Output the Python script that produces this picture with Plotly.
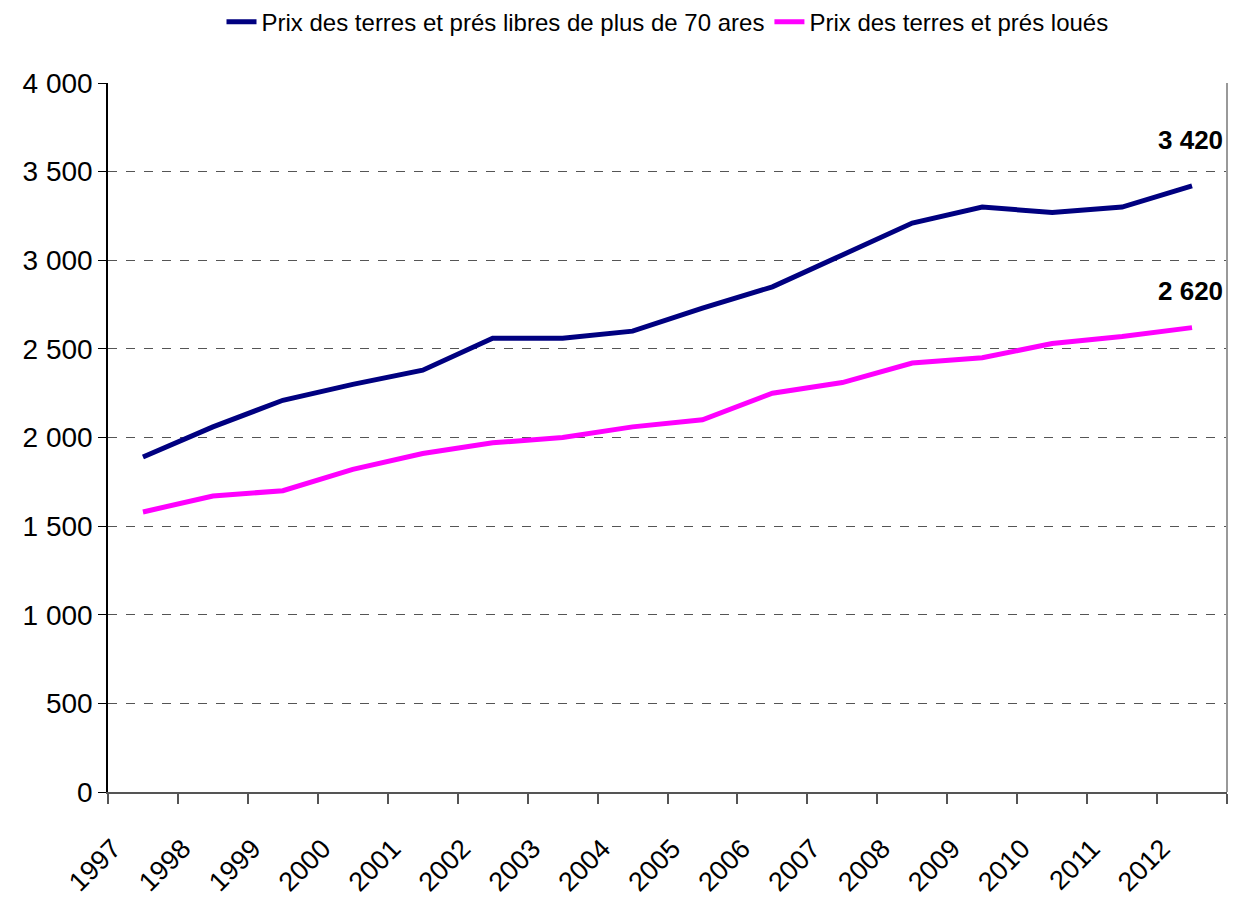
import plotly.graph_objects as go

years = [str(y) for y in range(1997, 2013)]
libres = [1890, 2060, 2210, 2300, 2380, 2560, 2560, 2600, 2730, 2850, 3030, 3210, 3300, 3270, 3300, 3420]
loues = [1580, 1670, 1700, 1820, 1910, 1970, 2000, 2060, 2100, 2250, 2310, 2420, 2450, 2530, 2570, 2620]
name_libres = "Prix des terres et prés libres de plus de 70 ares"
name_loues = "Prix des terres et prés loués"
y_ticks = [0, 500, 1000, 1500, 2000, 2500, 3000, 3500, 4000]
y_labels = ["0", "500", "1 000", "1 500", "2 000", "2 500", "3 000", "3 500", "4 000"]
end_labels = ["3 420", "2 620"]

FONT = "Liberation Sans Narrow, Arial Narrow, Liberation Sans, Arial, sans-serif"

fig = go.Figure()
fig.add_trace(go.Scatter(x=years, y=libres, mode="lines", name=name_libres,
                         line=dict(color="#000080", width=5)))
fig.add_trace(go.Scatter(x=years, y=loues, mode="lines", name=name_loues,
                         line=dict(color="#FF00FF", width=5)))

last = len(years) - 1
fig.add_annotation(xref="x", yref="y", x=last, y=libres[-1], text="<b>" + end_labels[0] + "</b>",
                   showarrow=False, xanchor="center", yanchor="bottom", xshift=-2, yshift=29,
                   font=dict(size=26, color="black", family=FONT))
fig.add_annotation(xref="x", yref="y", x=last, y=loues[-1], text="<b>" + end_labels[1] + "</b>",
                   showarrow=False, xanchor="center", yanchor="bottom", xshift=-2, yshift=20,
                   font=dict(size=26, color="black", family=FONT))

fig.update_layout(
    width=1228, height=893,
    margin=dict(l=100, r=9, t=75, b=109, autoexpand=False),
    paper_bgcolor="white", plot_bgcolor="white",
    font=dict(family=FONT, size=26, color="black"),
    showlegend=True,
    legend=dict(orientation="h", x=0.5, xanchor="center", y=1.086, yanchor="middle",
                font=dict(size=24, family=FONT), tracegroupgap=0),
    xaxis=dict(type="category", tickson="boundaries", ticks="outside", ticklen=10,
               tickcolor="#555", tickwidth=1.5,
               showline=True, linecolor="#555", linewidth=2, mirror=False,
               showgrid=False, tickangle=-45, ticklabelshift=-30, ticklabelstandoff=28,
               tickfont=dict(size=27, family=FONT), range=[-0.5, 15.5]),
    yaxis=dict(range=[0, 4000], tickvals=y_ticks, ticktext=y_labels,
               ticks="outside", ticklen=8, tickcolor="black",
               showline=True, linecolor="black", linewidth=1.5,
               showgrid=True, gridcolor="#555", griddash="dash", gridwidth=1,
               zeroline=False, tickfont=dict(size=28, family=FONT)),
)
fig.add_shape(type="line", xref="paper", yref="paper", x0=1, x1=1, y0=0, y1=1,
              line=dict(color="#999", width=2))

fig.write_html("out.html")
